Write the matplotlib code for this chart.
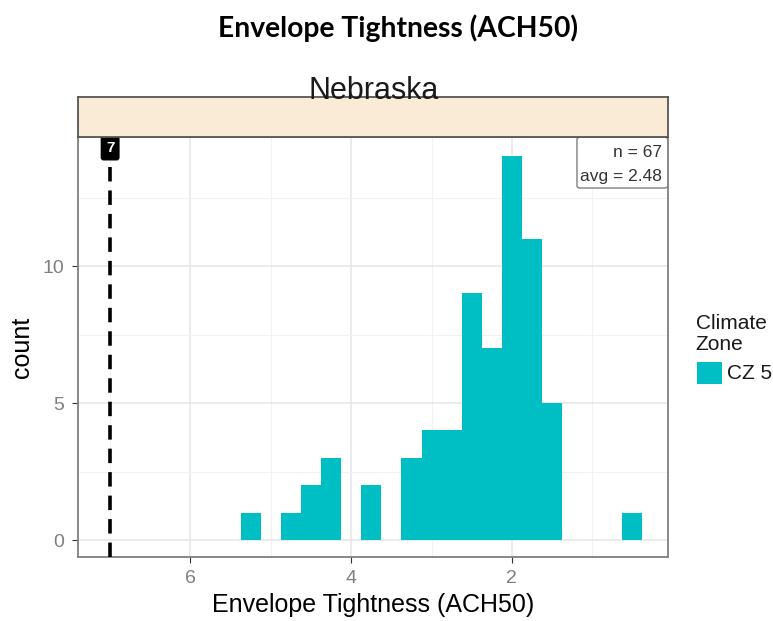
import numpy as np
import matplotlib.pyplot as plt
from matplotlib.patches import Rectangle, FancyBboxPatch

# histogram bins (centres, binwidth 0.25) and counts
bin_centers = [5.25, 4.75, 4.5, 4.25, 3.75, 3.25, 3.0, 2.75, 2.5, 2.25, 2.0, 1.75, 1.5, 0.5]
counts = [1, 1, 2, 3, 2, 3, 4, 4, 9, 7, 14, 11, 5, 1]
bin_width = 0.25
target = 7
n_homes = 67
avg_ach = 2.48
state = "Nebraska"
zone_label = "CZ 5"

bar_color = "#00BFC4"
plt.rcParams['font.family'] = ['Liberation Sans', 'DejaVu Sans']

fig = plt.figure(figsize=(7.73, 6.21), dpi=100)
ax = fig.add_axes([0.1009, 0.103, 0.763, 0.676])

ax.bar(bin_centers, counts, width=bin_width, color=bar_color, zorder=3)
ax.axvline(target, color="black", lw=2.6, ls=(0, (4, 2.5)), zorder=4)

ax.set_xlim(7.4, 0.06)
ax.set_ylim(-0.62, 14.7)
ax.set_xticks([6, 4, 2])
ax.set_yticks([0, 5, 10])
ax.set_xticks([7, 5, 3, 1], minor=True)
ax.set_yticks([2.5, 7.5, 12.5], minor=True)
ax.grid(True, which="major", color="#E5E5E5", lw=1.1, zorder=0)
ax.grid(True, which="minor", color="#F2F2F2", lw=0.8, zorder=0)
ax.tick_params(which="major", length=4, color="#333333", labelsize=14, labelcolor="#7F7F7F")
ax.tick_params(axis="x", pad=5)
ax.tick_params(axis="y", pad=6)
ax.tick_params(which="minor", length=0)
for s in ax.spines.values():
    s.set_color("#7F7F7F")
    s.set_linewidth(1.3)

ax.set_xlabel("Envelope Tightness (ACH50)", fontsize=18, labelpad=5)
ax.set_ylabel("count", fontsize=18, labelpad=6)

# target label on top of the dashed line
ax.text(target, 14.3, str(target), ha="center", va="center", color="white",
        fontsize=11, fontweight="bold", zorder=6,
        bbox=dict(boxstyle="round,pad=0.3,rounding_size=0.15", fc="black", ec="black"))

# n / avg box in top right corner
ax.add_patch(FancyBboxPatch((0.846, 0.879), 0.154, 0.121, transform=ax.transAxes,
                            boxstyle="round,pad=0,rounding_size=0.006",
                            fc="white", ec="#7F7F7F", lw=1, zorder=5))
ax.text(0.99, 0.963, f"n = {n_homes}", transform=ax.transAxes, ha="right", va="center",
        fontsize=12.5, color="#333333", zorder=6)
ax.text(0.99, 0.906, f"avg = {avg_ach}", transform=ax.transAxes, ha="right", va="center",
        fontsize=12.5, color="#333333", zorder=6)

# facet strip
strip = fig.add_axes([0.1009, 0.779, 0.763, 0.0644])
strip.add_patch(Rectangle((0, 0), 1, 1, transform=strip.transAxes, fc="#FAEBD7", ec="none"))
strip.set_xticks([])
strip.set_yticks([])
for s in strip.spines.values():
    s.set_color("#555555")
    s.set_linewidth(1.3)
fig.text(0.483, 0.8406, state, ha="center", va="baseline", fontsize=22, color="#1A1A1A")

fig.text(0.515, 0.955, "Envelope Tightness (ACH50)", ha="center", va="center",
         fontsize=20.3, fontweight="bold", family=["Lato", "DejaVu Sans"])

# legend
fig.text(0.9, 0.462, "Climate\nZone", ha="left", va="center", fontsize=15,
         color="#1A1A1A", linespacing=1.15)
fig.patches.append(Rectangle((0.902, 0.381), 0.032, 0.036, transform=fig.transFigure,
                             fc=bar_color, ec="none", figure=fig))
fig.text(0.94, 0.399, zone_label, ha="left", va="center", fontsize=15, color="#1A1A1A")

fig.savefig("out.png", dpi=100)
